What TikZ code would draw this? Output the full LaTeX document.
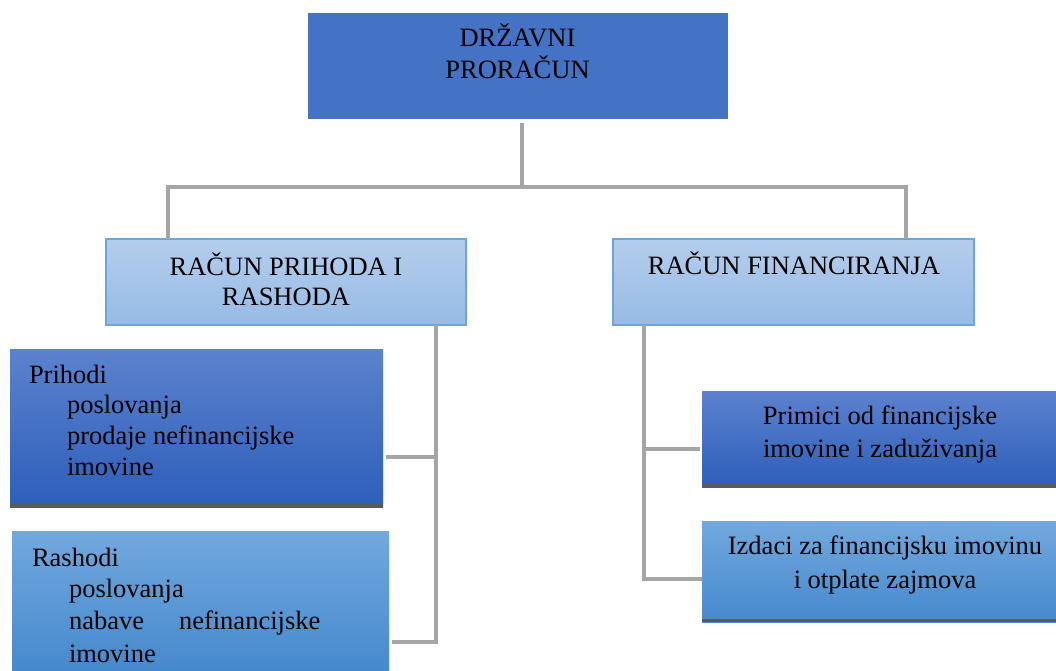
\documentclass[tikz,border=0pt]{standalone}
\usepackage{fontspec}
\setmainfont{Liberation Serif}
\usetikzlibrary{calc}
\definecolor{topblue}{HTML}{4472C4}
\definecolor{lbtop}{HTML}{B4CDEC}
\definecolor{lbbot}{HTML}{97BBE5}
\definecolor{lbborder}{HTML}{70A2DB}
\definecolor{dbtop}{HTML}{5C82CE}
\definecolor{dbbot}{HTML}{2D5EBA}
\definecolor{mbtop}{HTML}{72A8DE}
\definecolor{mbbot}{HTML}{4689CD}
\definecolor{conncol}{HTML}{A5A5A5}
\definecolor{shadowcol}{HTML}{5A5A5A}
\begin{document}
\begin{tikzpicture}[x=1pt,y=-1pt,
  box/.style={anchor=north west, inner sep=0pt, outer sep=0pt},
  topbox/.style={box, fill=topblue},
  lightbox/.style={box, top color=lbtop, bottom color=lbbot, draw=lbborder, line width=1.2pt},
  darkbox/.style={box, top color=dbtop, bottom color=dbbot},
  midbox/.style={box, top color=mbtop, bottom color=mbbot},
  txt/.style={inner sep=0pt, outer sep=0pt},
  conn/.style={draw=conncol, line width=3.5pt},
]
\useasboundingbox (0,0) rectangle (1056,671);

% boxes
\node[topbox, minimum width=420pt, minimum height=106pt] (top) at (308,13) {};
\node[lightbox, minimum width=360pt, minimum height=86pt] (rpr) at (106,239) {};
\node[lightbox, minimum width=361pt, minimum height=86pt] (rf) at (613,239) {};
\node[darkbox, minimum width=373pt, minimum height=158pt] (prih) at (10,349) {};
\node[midbox, minimum width=377pt, minimum height=140pt] (rash) at (12,531) {};
\node[darkbox, minimum width=354pt, minimum height=96pt] (prim) at (702,391) {};
\node[midbox, minimum width=354pt, minimum height=101pt] (izd) at (702,521) {};

% bottom shadow bars
\fill[shadowcol] ([yshift=3.5pt]prih.south west) rectangle (prih.south east);
\fill[shadowcol] ([yshift=3.5pt]prim.south west) rectangle (prim.south east);
\fill[shadowcol] ([yshift=3.5pt]izd.south west) rectangle (izd.south east);

% texts (multi-line nodes: base anchor = last baseline)
\node[txt, anchor=base, align=center, font=\fontsize{26.5}{32}\selectfont] (ttop) at (517.5,79) {DRŽAVNI\\PRORAČUN};
\node[txt, anchor=base, align=center, font=\fontsize{26.5}{30}\selectfont] (trpr) at (286,305) {RAČUN PRIHODA I\\RASHODA};
\node[txt, anchor=base, align=center, font=\fontsize{26.5}{30}\selectfont] (trf) at (794,274) {RAČUN FINANCIRANJA};
\node[txt, anchor=base west, font=\fontsize{26.5}{31}\selectfont] (tprih) at (29,383) {Prihodi};
\node[txt, anchor=base west, align=left, font=\fontsize{26.5}{31}\selectfont] (tprih2) at (67,475) {poslovanja\\prodaje nefinancijske\\imovine};
\node[txt, anchor=base west, font=\fontsize{26.5}{32}\selectfont] (trash) at (32,566) {Rashodi};
\node[txt, anchor=base west, align=left, font=\fontsize{26.5}{32.5}\selectfont] (trash2) at (69,662) {poslovanja\\nabave\hskip 35pt nefinancijske\\imovine};
\node[txt, anchor=base, align=center, font=\fontsize{26.5}{33}\selectfont] (tprim) at (880,457) {Primici od financijske\\imovine i zaduživanja};
\node[txt, anchor=base, align=center, font=\fontsize{26.5}{34}\selectfont] (tizd) at (885,588) {Izdaci za financijsku imovinu\\i otplate zajmova};

% connectors
\coordinate (j0) at (522,187);
\coordinate (hl) at (168,187);
\coordinate (hr) at (906,187);
\draw[conn] ([yshift=-4pt]top.south -| j0) -- (j0);
\draw[conn] (rpr.north -| hl) -- (hl) -- (hr) -- (rf.north -| hr);

\coordinate (lm) at (436,457);
\coordinate (lb) at (436,642);
\draw[conn] (rpr.south -| lb) -- (lb) -- ([xshift=3pt]rash.east |- lb);
\draw[conn] (lm) -- ([xshift=3pt]prih.east |- lm);

\coordinate (rm) at (644,449);
\coordinate (rb) at (644,579);
\draw[conn] (rf.south -| rb) -- (rb) -- (izd.west |- rb);
\draw[conn] (rm) -- ([xshift=-2pt]prim.west |- rm);
\end{tikzpicture}
\end{document}
